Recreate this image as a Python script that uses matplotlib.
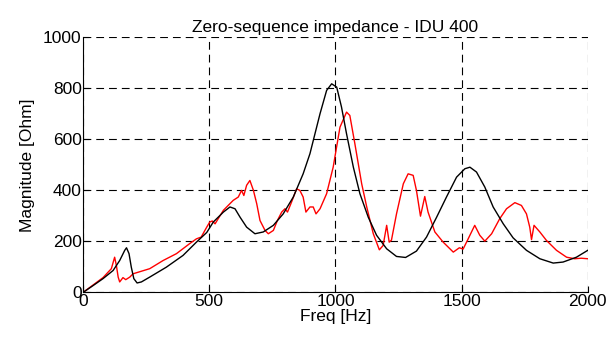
import numpy as np
import matplotlib
matplotlib.use("Agg")
import matplotlib.pyplot as plt

plt.rcParams['font.family'] = ['Liberation Sans', 'DejaVu Sans']

# modelled impedance (black)
f_model = [0, 40, 79, 119, 145, 165, 172, 182, 191, 201, 214, 231, 264, 330, 396, 449,
           490, 516, 556, 582, 602, 622, 648, 681, 714, 754, 793, 833, 872, 899,
           939, 965, 985, 1005, 1024, 1044, 1071, 1097, 1130, 1163, 1203, 1242,
           1278, 1321, 1361, 1401, 1440, 1480, 1513, 1533, 1559, 1592, 1625, 1665,
           1704, 1757, 1810, 1863, 1902, 1955, 2000]
z_model = [0, 27, 54, 86, 125, 165, 175, 152, 99, 54, 37, 41, 60, 99, 145, 197,
           235, 276, 315, 335, 328, 295, 256, 230, 237, 263, 308, 374, 465, 544,
           701, 792, 818, 805, 727, 622, 491, 387, 295, 224, 171, 141,
           137, 162, 217, 295, 374, 452, 485, 491, 472, 413, 335, 269,
           214, 165, 132, 115, 119, 138, 165]

# measured impedance (red)
f_meas = [0, 79, 112, 125, 132, 139, 145, 158, 169, 185, 198, 264, 317, 370, 422,
          449, 468, 490, 502, 512, 523, 556, 595, 615, 628, 637, 648, 661, 675,
          688, 701, 721, 734, 754, 770, 787, 800, 810, 826, 846, 859, 872, 883,
          899, 912, 923, 939, 965, 991, 1018, 1044, 1057, 1077, 1104, 1124, 1150,
          1174, 1189, 1203, 1213, 1222, 1242, 1269, 1288, 1308, 1321, 1337, 1354,
          1367, 1394, 1427, 1467, 1491, 1506, 1526, 1552, 1572, 1592, 1619, 1651,
          1678, 1711, 1737, 1757, 1770, 1777, 1787, 1810, 1836, 1876, 1916, 1948,
          1974, 2000]
z_meas = [0, 58, 93, 138, 105, 60, 41, 58, 50, 60, 73, 93, 125, 152, 191,
          210, 217, 256, 276, 280, 269, 322, 361, 374, 400, 380, 420, 439, 400,
          348, 282, 243, 230, 243, 282, 315, 328, 315, 354, 406, 400, 374, 315,
          335, 335, 308, 328, 387, 491, 648, 707, 694, 583, 426, 335, 230,
          167, 184, 263, 197, 205, 308, 426, 465, 459, 400, 299, 376,
          315, 237, 197, 158, 175, 170, 210, 263, 224, 201, 230, 289,
          328, 352, 341, 308, 256, 207, 263, 237, 204, 165, 138, 132,
          134, 132]

fig, ax = plt.subplots(figsize=(6.11, 3.40), dpi=100)
fig.subplots_adjust(left=0.136, right=0.962, top=0.89, bottom=0.14)

ax.plot(f_meas, z_meas, color='red', lw=1)
ax.plot(f_model, z_model, color='black', lw=1)

ax.set_xlim(0, 2000)
ax.set_ylim(0, 1000)
ax.set_xticks([0, 500, 1000, 1500, 2000])
ax.set_yticks([0, 200, 400, 600, 800, 1000])
ax.grid(True, color='black', linestyle=(0, (7, 4.5)), lw=0.8)
ax.spines['top'].set_visible(False)
ax.spines['right'].set_visible(False)
ax.tick_params(direction='in', length=4, labelsize=12.5, pad=1)

ax.set_title('Zero-sequence impedance - IDU 400', fontsize=12.5, pad=4)
ax.set_xlabel('Freq [Hz]', fontsize=12.5, labelpad=0)
ax.set_ylabel('Magnitude [Ohm]', fontsize=12.5, labelpad=6)

fig.savefig('out.png', dpi=100)
